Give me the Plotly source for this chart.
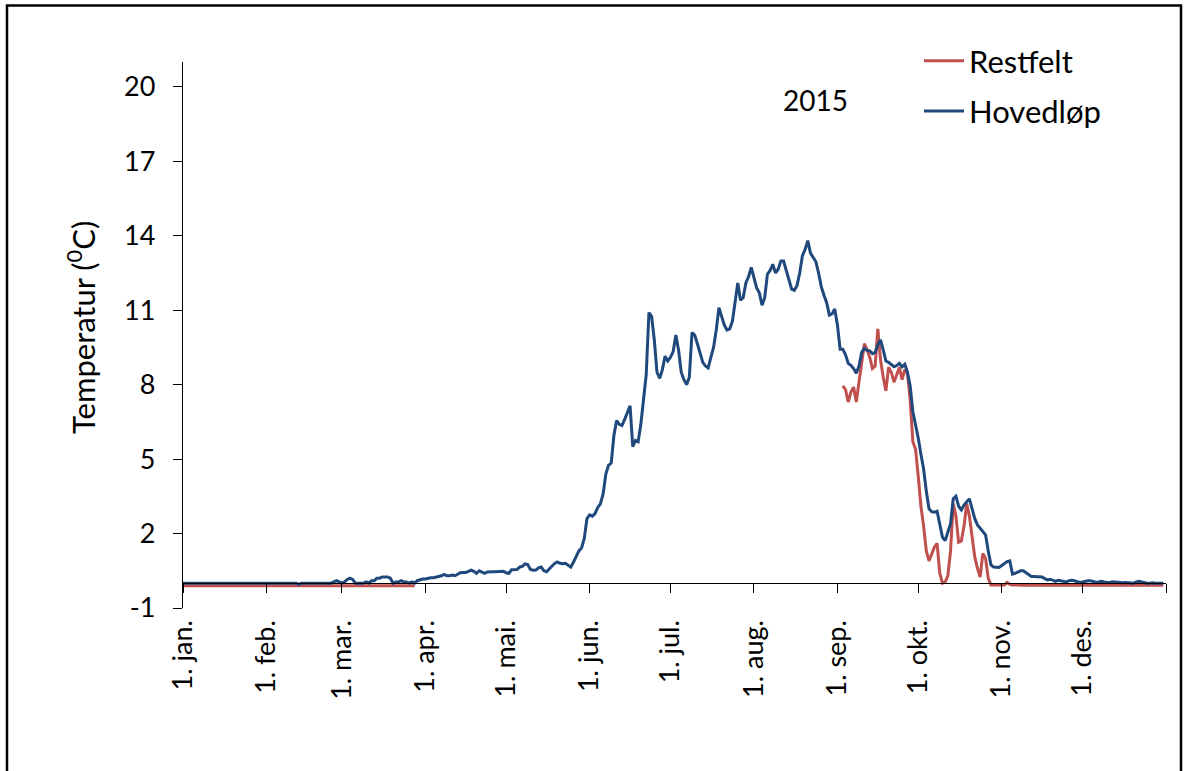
import plotly.graph_objects as go
import pandas as pd

# ---------------- data ----------------
month_starts = ["2015-01-01", "2015-02-01", "2015-03-01", "2015-04-01", "2015-05-01",
                "2015-06-01", "2015-07-01", "2015-08-01", "2015-09-01", "2015-10-01",
                "2015-11-01", "2015-12-01", "2016-01-01"]
month_labels = ["1. jan.", "1. feb.", "1. mar.", "1. apr.", "1. mai.", "1. jun.",
                "1. jul.", "1. aug.", "1. sep.", "1. okt.", "1. nov.", "1. des.", " "]
y_ticks = [-1, 2, 5, 8, 11, 14, 17, 20]
y_tick_labels = ["-1", "2", "5", "8", "11", "14", "17", "20"]

# Hovedløp, daily values from 1 Jan 2015
hovedlop_jan = [0.0, 0.0, 0.0, 0.0, 0.0, 0.0, 0.0, 0.0, 0.0, 0.0,
                0.0, 0.0, 0.0, 0.0, 0.0, 0.0, 0.0, 0.0, 0.0, 0.0,
                0.0, 0.0, 0.0, 0.0, 0.0, 0.0, 0.0, 0.0, 0.0, 0.0, 0.0]
hovedlop_feb = [0.0, 0.0, 0.0, 0.0, 0.0, 0.0, 0.0, 0.0, 0.0, 0.0,
                0.0, 0.0, -0.05, 0.0, 0.0, 0.0, 0.0, 0.0, 0.0, 0.0,
                0.0, 0.0, 0.0, 0.0, 0.0, 0.05, 0.1, 0.05]
hovedlop_mar = [0.0, 0.05, 0.15, 0.2, 0.15, 0.0, 0.0, 0.0, 0.0, 0.05,
                0.0, 0.1, 0.1, 0.2, 0.2, 0.25, 0.25, 0.25, 0.2, 0.0,
                0.05, 0.05, 0.1, 0.05, 0.05, 0.0, 0.05, 0.0, 0.1, 0.15, 0.17]
hovedlop_apr = [0.17, 0.2, 0.22, 0.22, 0.24, 0.27, 0.3, 0.35, 0.3, 0.3,
                0.33, 0.3, 0.35, 0.42, 0.43, 0.43, 0.48, 0.53, 0.48, 0.4,
                0.5, 0.45, 0.4, 0.45, 0.44, 0.46, 0.46, 0.46, 0.47, 0.48]
hovedlop_may = [0.42, 0.4, 0.54, 0.54, 0.55, 0.65, 0.68, 0.78, 0.75, 0.55,
                0.52, 0.53, 0.62, 0.65, 0.5, 0.46, 0.58, 0.68, 0.8, 0.86,
                0.8, 0.78, 0.8, 0.72, 0.65, 0.85, 1.1, 1.3, 1.42, 1.8, 2.6]
hovedlop_jun = [2.75, 2.7, 2.8, 3.05, 3.2, 3.6, 4.4, 4.75, 4.84, 5.95,
                6.55, 6.4, 6.35, 6.6, 6.9, 7.15, 5.5, 5.75, 5.7, 6.4,
                7.4, 8.4, 10.9, 10.75, 9.8, 8.5, 8.25, 8.6, 9.15, 8.95]
hovedlop_jul = [9.1, 9.33, 10.0, 9.4, 8.5, 8.2, 8.0, 8.3, 10.1, 10.0,
                9.65, 9.3, 8.9, 8.75, 8.67, 9.1, 9.5, 10.2, 11.1, 10.75,
                10.4, 10.2, 10.25, 10.55, 11.3, 12.1, 11.4, 11.5, 12.1, 12.35, 12.72]
hovedlop_aug = [12.3, 11.9, 11.7, 11.2, 11.5, 12.45, 12.6, 12.85, 12.5, 12.65,
                12.98, 12.98, 12.6, 12.2, 11.85, 11.8, 12.0, 12.5, 13.2, 13.45,
                13.8, 13.3, 13.15, 12.95, 12.5, 11.95, 11.6, 11.3, 10.8, 10.85, 11.05]
hovedlop_sep = [10.4, 9.43, 9.43, 9.2, 8.86, 8.78, 8.65, 8.46, 8.75, 9.3,
                9.46, 9.38, 9.36, 9.25, 9.3, 9.6, 9.8, 9.4, 8.95, 8.9,
                8.82, 8.72, 8.77, 8.86, 8.72, 8.82, 8.5, 7.95, 6.92, 6.45]
hovedlop_oct = [5.85, 5.2, 4.6, 3.7, 3.0, 2.88, 2.86, 2.9, 2.4, 1.85,
                1.72, 2.1, 2.4, 3.4, 3.5, 3.1, 2.95, 3.15, 3.3, 3.4,
                3.0, 2.6, 2.35, 2.2, 2.07, 1.95, 1.3, 0.74, 0.65, 0.63, 0.63]
hovedlop_nov = [0.71, 0.8, 0.87, 0.9, 0.37, 0.4, 0.45, 0.5, 0.5, 0.43,
                0.33, 0.27, 0.27, 0.27, 0.26, 0.25, 0.18, 0.13, 0.16, 0.12,
                0.07, 0.12, 0.1, 0.08, 0.05, 0.1, 0.12, 0.1, 0.05, 0.03]
hovedlop_dec = [0.05, 0.08, 0.1, 0.1, 0.06, 0.04, 0.05, 0.08, 0.05, 0.03,
                0.02, 0.06, 0.05, 0.02, 0.0, 0.02, 0.03, 0.02, 0.0, 0.0,
                0.05, 0.08, 0.05, 0.02, 0.0, 0.0, 0.02, 0.0, 0.0, 0.0, 0.0]

# Restfelt, first segment from 1 Jan 2015
restfelt_winter = [-0.1, -0.1, -0.1, -0.1, -0.1, -0.1, -0.1, -0.1, -0.1, -0.1,
                   -0.1, -0.1, -0.1, -0.1, -0.1, -0.1, -0.1, -0.1, -0.1, -0.1,
                   -0.1, -0.1, -0.1, -0.1, -0.1, -0.1, -0.1, -0.1, -0.1, -0.1,
                   -0.1, -0.1, -0.1, -0.1, -0.1, -0.1, -0.1, -0.1, -0.1, -0.1,
                   -0.1, -0.1, -0.1, -0.1, -0.1, -0.1, -0.1, -0.1, -0.1, -0.1,
                   -0.1, -0.1, -0.1, -0.1, -0.1, -0.1, -0.1, -0.1, -0.1, -0.1,
                   -0.1, -0.1, -0.1, -0.1, -0.1, -0.1, -0.1, -0.1, -0.1, -0.1,
                   -0.1, -0.1, -0.1, -0.1, -0.1, -0.1, -0.1, -0.1, -0.1, -0.1,
                   -0.1, -0.1, -0.1, -0.1, -0.1, -0.1, -0.1]
restfelt_winter_start = "2015-01-01"
# Restfelt, second segment from 3 Sep 2015
restfelt_autumn_start = "2015-09-03"
restfelt_sep = [7.95, 7.8, 7.3, 7.7, 7.9, 7.3, 8.1, 8.9, 9.65, 9.4,
                9.1, 8.65, 8.75, 10.25, 9.0, 8.3, 7.75, 8.7, 8.5, 8.1,
                8.45, 8.7, 8.2, 8.6, 8.45, 7.4, 5.7, 5.4]
restfelt_oct = [4.3, 3.1, 2.3, 1.3, 0.9, 1.2, 1.45, 1.6, 0.4, 0.0,
                0.05, 0.3, 1.3, 3.2, 2.7, 1.65, 1.7, 2.3, 3.2, 2.7,
                1.8, 1.05, 0.6, 0.25, 1.2, 1.0, 0.2, -0.07, -0.07, -0.07, -0.07]
restfelt_nov = [-0.07, -0.07, 0.03, -0.05, -0.07, -0.08, -0.08, -0.08, -0.08, -0.08,
                -0.08, -0.08, -0.08, -0.08, -0.08, -0.08, -0.08, -0.08, -0.08, -0.08,
                -0.08, -0.08, -0.08, -0.08, -0.08, -0.08, -0.08, -0.08, -0.08, -0.08]
restfelt_dec = [-0.08, -0.08, -0.08, -0.08, -0.08, -0.08, -0.08, -0.08, -0.08, -0.08,
                -0.08, -0.08, -0.08, -0.08, -0.08, -0.08, -0.08, -0.08, -0.08, -0.08,
                -0.08, -0.08, -0.08, -0.08, -0.08, -0.08, -0.08, -0.08, -0.08, -0.08, -0.08]

# ---------------- build series ----------------
hovedlop = (hovedlop_jan + hovedlop_feb + hovedlop_mar + hovedlop_apr + hovedlop_may +
            hovedlop_jun + hovedlop_jul + hovedlop_aug + hovedlop_sep + hovedlop_oct +
            hovedlop_nov + hovedlop_dec)
hov_dates = list(pd.date_range("2015-01-01", periods=len(hovedlop), freq="D"))

rest_autumn = restfelt_sep + restfelt_oct + restfelt_nov + restfelt_dec
w_dates = list(pd.date_range(restfelt_winter_start, periods=len(restfelt_winter), freq="D"))
a_dates = list(pd.date_range(restfelt_autumn_start, periods=len(rest_autumn), freq="D"))
rest_x = w_dates + [w_dates[-1] + pd.Timedelta(days=1)] + a_dates
rest_y = restfelt_winter + [None] + rest_autumn

RED = "#C0504D"
BLUE = "#1F497D"
FONT = "Lato"
FS_TICK = 27
FS_TEXT = 31

W, H = 1187, 771
ML, MR, MT, MB = 183, 21, 62, 163
PW, PH = W - ML - MR, H - MT - MB
YMIN, YMAX = -1, 21


def px_x(px):
    return (px - ML) / PW


def px_y(py):
    return (H - MB - py) / PH


fig = go.Figure()
fig.add_trace(go.Scatter(x=rest_x, y=rest_y, mode="lines", name="Restfelt",
                         legendgroup="r", connectgaps=False,
                         line=dict(color=RED, width=3)))
fig.add_trace(go.Scatter(x=hov_dates, y=hovedlop, mode="lines", name="Hovedløp",
                         legendgroup="h",
                         line=dict(color=BLUE, width=3)))

fig.update_layout(
    width=W, height=H,
    margin=dict(l=ML, r=MR, t=MT, b=MB, pad=0),
    paper_bgcolor="white", plot_bgcolor="white",
    font=dict(family=FONT, size=FS_TICK, color="black"),
    showlegend=True,
    legend=dict(x=px_x(919), y=px_y(34), xanchor="left", yanchor="top",
                bgcolor="rgba(0,0,0,0)", font=dict(family=FONT, size=FS_TEXT, color="black"),
                tracegroupgap=7, itemwidth=40),
    xaxis=dict(type="date", range=[month_starts[0], month_starts[-1]],
               tickmode="array", tickvals=month_starts, ticktext=month_labels,
               tickangle=-90, ticks="outside", ticklen=9, tickwidth=1.3, tickcolor="black",
               showline=True, linecolor="black", linewidth=1.3,
               showgrid=False, zeroline=False,
               anchor="free", position=(0 - YMIN) / (YMAX - YMIN),
               ticklabelstandoff=16, automargin=False,
               tickfont=dict(family=FONT, size=FS_TICK, color="black")),
    yaxis=dict(range=[YMIN, YMAX], tickmode="array", tickvals=y_ticks,
               ticktext=y_tick_labels,
               ticks="outside", ticklen=9, tickwidth=1.3, tickcolor="black",
               showline=True, linecolor="black", linewidth=1.3,
               showgrid=False, zeroline=False, automargin=False,
               ticklabelstandoff=12,
               tickfont=dict(family=FONT, size=FS_TICK, color="black")),
    annotations=[
        dict(text="2015", x=px_x(815), y=px_y(100), xref="paper", yref="paper",
             showarrow=False, xanchor="center", yanchor="middle",
             font=dict(family=FONT, size=28, color="black")),
        dict(text="Temperatur (<sup>0</sup>C)", x=px_x(81), y=px_y(328),
             xref="paper", yref="paper", textangle=-90, showarrow=False,
             xanchor="center", yanchor="middle",
             font=dict(family=FONT, size=FS_TEXT, color="black")),
    ],
    shapes=[dict(type="rect", xref="paper", yref="paper",
                 x0=px_x(7), x1=px_x(1181), y0=px_y(800), y1=px_y(5.5),
                 line=dict(color="black", width=2.5), fillcolor="rgba(0,0,0,0)",
                 layer="above")],
)

fig.write_html("out.html", config={"displayModeBar": False},
               post_script="document.body.style.margin='0';document.body.style.overflow='hidden';")
